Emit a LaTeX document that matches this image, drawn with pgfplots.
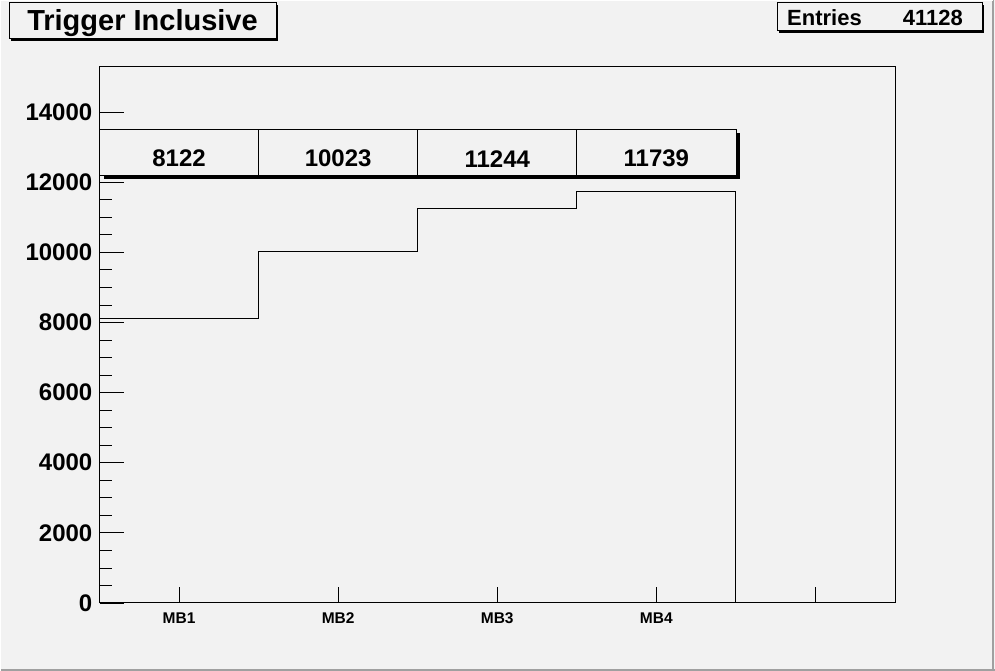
\documentclass[border=0pt]{standalone}
\usepackage{pgfplots}
\pgfplotsset{compat=1.18}
\usepackage{fontspec}
\setmainfont{Liberation Sans}
\definecolor{bg}{HTML}{F2F2F2}
\definecolor{frm}{HTML}{A0A0A0}
\begin{document}
\begin{tikzpicture}[x=1pt,y=1pt]
\useasboundingbox (0,0) rectangle (995,671);
\fill[bg] (0,0) rectangle (995,671);
\draw[frm,line width=2pt] (993,0) -- (993,671);
\draw[frm,line width=2pt] (0,1) -- (995,1);
\draw[white,line width=1pt] (0.5,0) -- (0.5,670.5) -- (993,670.5);
\begin{axis}[
  at={(99.5pt,68pt)}, anchor=south west,
  scale only axis, width=795.5pt, height=536pt,
  xmin=0, xmax=5, ymin=0, ymax=15284,
  axis line style={line width=1pt},
  every tick/.style={black, line width=0.8pt},
  xtick={0.5,1.5,2.5,3.5,4.5},
  xticklabels={MB1,MB2,MB3,MB4,{}},
  xtick pos=bottom, ytick pos=left,
  x tick style={draw=none},
  ytick={0,2000,4000,6000,8000,10000,12000,14000},
  scaled y ticks=false,
  minor y tick num=3,
  major tick length=24pt, minor tick length=12pt,
  /pgf/number format/assume math mode=true,
  /pgf/number format/1000 sep={},
  yticklabel style={font=\fontsize{24}{24}\selectfont\bfseries, anchor=east, inner sep=0pt, xshift=-7pt},
  xticklabel style={font=\fontsize{15.5}{16}\selectfont\bfseries, anchor=base, inner sep=0pt, yshift=-21pt},
  clip=false,
]
\addplot[const plot, black, line width=1pt, mark=none] coordinates {
 (0,8122) (1,10023) (2,11244) (3,11739) (4,0) (5,0)};
\pgfplotsinvokeforeach{0.5,1.5,2.5,3.5,4.5}{
  \draw[black, line width=0.8pt] (axis cs:#1,0) -- ([yshift=16pt]axis cs:#1,0);
}
% value boxes
\pgfplotsinvokeforeach{0,1,2,3}{
  \fill[black] ([shift={(4pt,-3.5pt)}]axis cs:#1,12204) rectangle ([shift={(4pt,-3.5pt)}]axis cs:#1+1,13515);
}
\pgfplotsinvokeforeach{0,1,2,3}{
  \filldraw[fill=bg, draw=black, line width=0.8pt] (axis cs:#1,12204) rectangle (axis cs:#1+1,13515);
}
\node[anchor=base, inner sep=0pt, font=\fontsize{24}{24}\selectfont\bfseries] at (axis cs:0.5,12435) {8122};
\node[anchor=base, inner sep=0pt, font=\fontsize{24}{24}\selectfont\bfseries] at (axis cs:1.5,12435) {10023};
\node[anchor=base, inner sep=0pt, font=\fontsize{24}{24}\selectfont\bfseries] at (axis cs:2.5,12405) {11244};
\node[anchor=base, inner sep=0pt, font=\fontsize{24}{24}\selectfont\bfseries] at (axis cs:3.5,12435) {11739};
\end{axis}
% title box
\fill[black] (11,630) rectangle (278,666);
\filldraw[fill=bg, draw=black, line width=1pt] (9,632) rectangle (276,668);
\node[anchor=base, inner sep=0pt, font=\fontsize{29}{29}\selectfont\bfseries] at (142.5,640) {Trigger Inclusive};
% stats box
\fill[black] (779,638) rectangle (984,666);
\filldraw[fill=bg, draw=black, line width=1pt] (777,640) rectangle (982,668);
\node[anchor=base west, inner sep=0pt, font=\fontsize{22}{22}\selectfont\bfseries] at (787,645) {Entries};
\node[anchor=base east, inner sep=0pt, font=\fontsize{22}{22}\selectfont\bfseries] at (963,645) {41128};
\end{tikzpicture}
\end{document}
